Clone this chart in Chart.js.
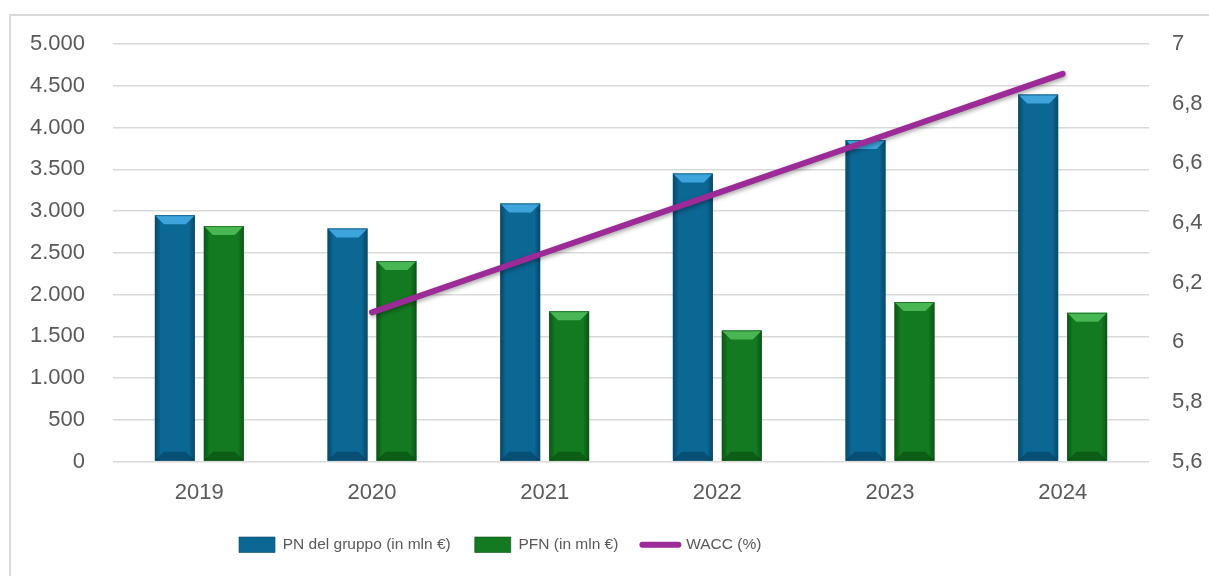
<!DOCTYPE html>
<html>
<head>
<meta charset="utf-8">
<script src="https://cdn.jsdelivr.net/npm/chart.js@4.4.1/dist/chart.umd.min.js"></script>
<style>
  html, body { margin: 0; padding: 0; background: #fff; }
  #wrap { position: relative; width: 1209px; height: 576px; overflow: hidden; }
  #frame { position: absolute; left: 9px; top: 14px; width: 1400px; height: 800px;
           border-left: 2px solid #d9d9d9; border-top: 2px solid #d9d9d9; }
  canvas { position: absolute; left: 0; top: 0; }
</style>
</head>
<body>
<div id="wrap">
  <div id="frame"></div>
  <canvas id="chart" width="1209" height="576"></canvas>
</div>
<script>
// values
var years = ['2019', '2020', '2021', '2022', '2023', '2024'];
var pnGruppo = [2950, 2790, 3090, 3450, 3850, 4395];
var pfn = [2820, 2400, 1800, 1570, 1910, 1780];
var wacc = [null, 6.1, 6.3, 6.5, 6.7, 6.9];

var seriesLabels = ['PN del gruppo (in mln €)', 'PFN (in mln €)', 'WACC (%)'];

var textColor = '#595959';
var tickFont = { family: "'Liberation Sans', Arial, sans-serif", size: 22 };
var legendFont = { family: "'Liberation Sans', Arial, sans-serif", size: 15.5 };

function itNumber(v, dec) {
   var s = dec ? (Math.round(v * 10) / 10).toString().replace('.', ',') : Math.round(v).toString();
   return s.replace(/\B(?=(\d{3})+(?!\d))/g, '.');
}

// bevel look on bars, drawn right after each bar dataset
var bevelPlugin = {
   id: 'bevel',
   beforeDatasetDraw: function (chart, args) {
      var ds = chart.data.datasets[args.index];
      if (ds.type === 'line') {
         var ctx = chart.ctx;
         ctx.save();
         ctx.shadowColor = 'rgba(0,0,0,0.35)';
         ctx.shadowBlur = 4;
         ctx.shadowOffsetX = 1;
         ctx.shadowOffsetY = 2;
      }
   },
   afterDatasetDraw: function (chart, args) {
      var ds = chart.data.datasets[args.index];
      var ctx = chart.ctx;
      if (ds.type === 'line') {
         ctx.restore();
         return;
      }
      if (!ds.bevel) return;
      ctx.save();
      args.meta.data.forEach(function (bar) {
         var p = bar.getProps(['x', 'y', 'base', 'width'], true);
         var l = p.x - p.width / 2, r = p.x + p.width / 2;
         var h = p.base - p.y;
         var b = Math.min(9, h / 2);
         var g = ctx.createLinearGradient(l, 0, r, 0);
         g.addColorStop(0, ds.bevel.edge);
         g.addColorStop(0.14, 'rgba(0,0,0,0)');
         g.addColorStop(0.86, 'rgba(0,0,0,0)');
         g.addColorStop(1, ds.bevel.edge);
         ctx.fillStyle = g;
         ctx.fillRect(l, p.y, p.width, h);
         ctx.fillStyle = ds.bevel.top;
         ctx.beginPath();
         ctx.moveTo(l, p.y);
         ctx.lineTo(r, p.y);
         ctx.lineTo(r - b, p.y + b);
         ctx.lineTo(l + b, p.y + b);
         ctx.closePath();
         ctx.fill();
         ctx.fillStyle = ds.bevel.bottom;
         ctx.beginPath();
         ctx.moveTo(l, p.base);
         ctx.lineTo(r, p.base);
         ctx.lineTo(r - b, p.base - b);
         ctx.lineTo(l + b, p.base - b);
         ctx.closePath();
         ctx.fill();
         ctx.strokeStyle = ds.bevel.line;
         ctx.lineWidth = 1;
         ctx.strokeRect(l + 0.5, p.y + 0.5, p.width - 1, h - 1);
      });
      ctx.restore();
   }
};

// move the legend to where the reference has it
var legendPos = {
   id: 'legendPos',
   afterUpdate: function (chart) {
      var lg = chart.legend;
      var dx = 215 - lg.left;
      lg.left += dx;
      lg.right += dx;
      var dy = 513 - lg.top;
      lg.top += dy;
      lg.bottom += dy;
   }
};

var config = {
   type: 'bar',
   data: {
      labels: years,
      datasets: [
         {
            label: seriesLabels[0],
            data: pnGruppo,
            backgroundColor: '#0b6794',
            yAxisID: 'y',
            order: 1,
            categoryPercentage: 0.567,
            barPercentage: 0.816,
            bevel: { top: '#3ea5dc', bottom: 'rgba(5,60,90,0.55)', edge: 'rgba(4,50,80,0.45)', line: 'rgba(10,70,100,0.6)' }
         },
         {
            label: seriesLabels[1],
            data: pfn,
            backgroundColor: '#137a21',
            yAxisID: 'y',
            order: 1,
            categoryPercentage: 0.567,
            barPercentage: 0.816,
            bevel: { top: '#48b653', bottom: 'rgba(8,70,15,0.55)', edge: 'rgba(5,60,12,0.45)', line: 'rgba(10,80,20,0.6)' }
         },
         {
            type: 'line',
            label: seriesLabels[2],
            data: wacc,
            borderColor: '#9c2a97',
            backgroundColor: '#9c2a97',
            borderWidth: 6,
            borderCapStyle: 'round',
            pointRadius: 0,
            tension: 0,
            yAxisID: 'y1',
            order: 0
         }
      ]
   },
   options: {
      responsive: false,
      devicePixelRatio: 1,
      animation: false,
      layout: { padding: { top: 44, left: 0, right: 0, bottom: 21 } },
      plugins: {
         tooltip: { enabled: false },
         legend: {
            position: 'bottom',
            align: 'start',
            labels: {
               color: textColor,
               font: legendFont,
               usePointStyle: true,
               pointStyleWidth: 36,
               boxHeight: 16,
               padding: 24,
               sort: function (a, b) { return a.datasetIndex - b.datasetIndex; },
               generateLabels: function (chart) {
                  var items = Chart.defaults.plugins.legend.labels.generateLabels(chart);
                  return items.map(function (it) {
                     var ds = chart.data.datasets[it.datasetIndex];
                     if (ds.type === 'line') {
                        it.pointStyle = 'line';
                        it.lineWidth = 6;
                        it.lineCap = 'round';
                        it.strokeStyle = ds.borderColor;
                     } else {
                        it.pointStyle = 'rect';
                        it.fillStyle = ds.backgroundColor;
                        it.strokeStyle = ds.bevel.line;
                        it.lineWidth = 1;
                     }
                     return it;
                  });
               }
            }
         }
      },
      scales: {
         x: {
            grid: { display: false },
            border: { display: false },
            ticks: { color: textColor, font: tickFont, padding: 10 },
            afterFit: function (s) { s.height = 44; }
         },
         y: {
            position: 'left',
            min: 0,
            max: 5000,
            ticks: {
               stepSize: 500,
               color: textColor,
               font: tickFont,
               padding: 28,
               callback: function (v) { return itNumber(v, false); }
            },
            grid: { color: '#d9d9d9', lineWidth: 1.5, drawTicks: false },
            border: { display: false },
            afterFit: function (s) { s.width = 113; }
         },
         y1: {
            position: 'right',
            min: 5.6,
            max: 7,
            ticks: {
               stepSize: 0.2,
               color: textColor,
               font: tickFont,
               padding: 23,
               callback: function (v) { return itNumber(v, true); }
            },
            grid: { display: false, drawTicks: false },
            border: { display: false },
            afterFit: function (s) { s.width = 60; }
         }
      }
   },
   plugins: [bevelPlugin, legendPos]
};

var chart = new Chart(document.getElementById('chart').getContext('2d'), config);
</script>
</body>
</html>
